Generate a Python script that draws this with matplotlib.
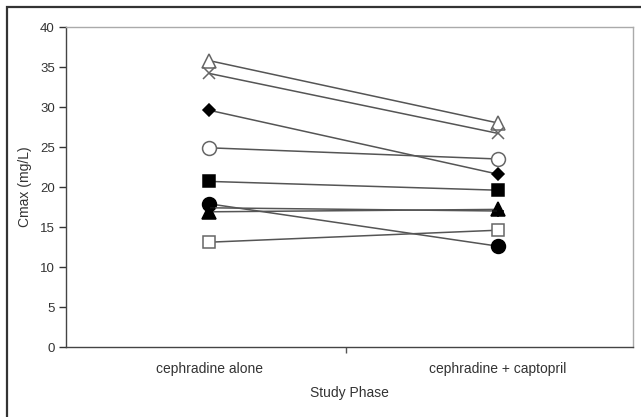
import matplotlib
matplotlib.use("Agg")
import matplotlib.pyplot as plt
from matplotlib.patches import Rectangle

plt.rcParams['font.family'] = ['Liberation Sans', 'DejaVu Sans']

phases = ["cephradine alone", "cephradine + captopril"]
# subjects: (marker, filled, before, after)
markers = ['^', 'x', 'D', 'o', 's', 'o', '^', 's', '+']
filled = [False, False, True, False, True, True, True, False, True]
cmax_alone = [35.8, 34.2, 29.6, 24.9, 20.7, 17.9, 16.9, 13.1, 17.4]
cmax_capt = [28.0, 26.7, 21.6, 23.5, 19.6, 12.6, 17.2, 14.6, 17.0]
yticks = [0, 5, 10, 15, 20, 25, 30, 35, 40]

fig = plt.figure(figsize=(6.41, 4.17), dpi=100)
fig.patches.append(Rectangle((7/641, -0.1), 1.2, 1 - 7/417 + 0.1, transform=fig.transFigure,
                             fill=False, edgecolor='#333333', linewidth=1.6))
ax = fig.add_axes([66/641, 1 - 347/417, (633 - 66)/641, (347 - 27)/417])

xs = [0, 1]
sizes = {'^': 10, 'x': 9, 'D': 6.5, 'o': 10, 's': 9, '+': 8}
for m, f, a, b in zip(markers, filled, cmax_alone, cmax_capt):
    if f:
        mfc, mec = 'black', 'black'
    else:
        mfc, mec = 'white', '#666666'
    ax.plot(xs, [a, b], color='#555555', linewidth=1.1, marker=m,
            markersize=sizes[m], markerfacecolor=mfc, markeredgecolor=mec,
            markeredgewidth=1.1, zorder=3)

ax.set_xlim(-0.495, 1.467)
ax.set_ylim(0, 40)
ax.set_yticks(yticks)
ax.tick_params(axis='y', direction='out', length=5, width=1, color='#333333',
               labelsize=9.5, labelcolor='#333333', pad=3)
ax.set_xticks([0.474])
ax.set_xticklabels([''])
ax.tick_params(axis='x', which='major', direction='out', length=4, width=1, color='#555555')
ax.set_xticks(xs, minor=True)
ax.set_xticklabels(phases, minor=True)
ax.tick_params(axis='x', which='minor', length=0, labelsize=10, labelcolor='#333333', pad=11)

for s in ['left', 'bottom']:
    ax.spines[s].set_color('#444444')
    ax.spines[s].set_linewidth(1.0)
for s in ['top', 'right']:
    ax.spines[s].set_color('#aaaaaa')
    ax.spines[s].set_linewidth(1.0)

ax.set_ylabel("Cmax (mg/L)", fontsize=10, color='#333333', labelpad=6)
ax.set_xlabel("Study Phase", fontsize=10, color='#333333', labelpad=7)

fig.savefig("out.png", dpi=100)
